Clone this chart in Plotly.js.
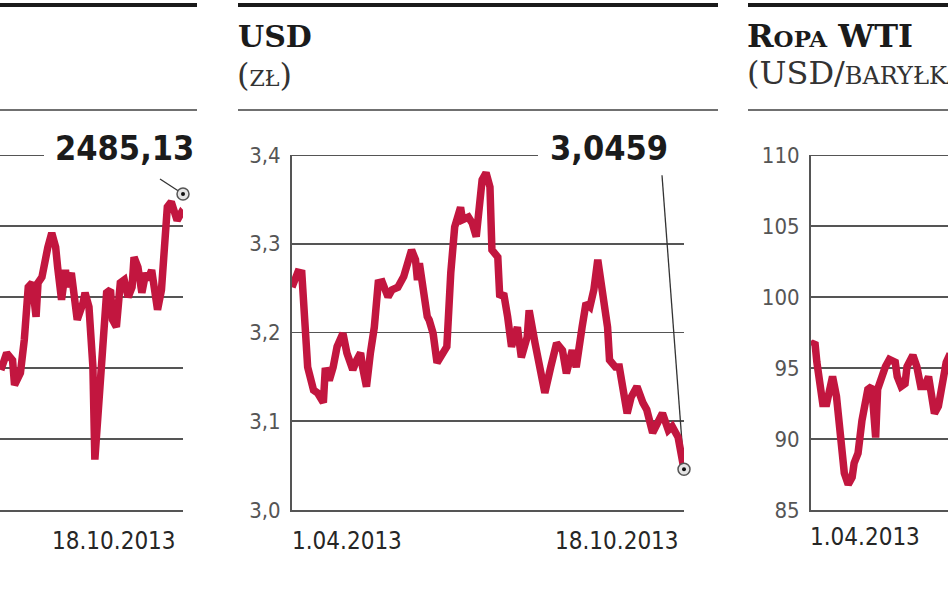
<!DOCTYPE html>
<html><head><meta charset="utf-8">
<script src="https://cdn.plot.ly/plotly-3.0.1.min.js"></script>
<style>html,body{margin:0;padding:0;background:#fff;}#chart{width:948px;height:593px;}</style>
</head><body><div id="chart"></div>
<script>
// ---- Data ----
// Left panel: index (only right part visible)
const wigDates = ['2013-07-17','2013-07-20','2013-07-23','2013-07-24','2013-07-27','2013-07-29','2013-07-31',
 '2013-08-02','2013-08-04','2013-08-05','2013-08-07','2013-08-09','2013-08-10','2013-08-12','2013-08-14','2013-08-15','2013-08-17','2013-08-19','2013-08-20','2013-08-22','2013-08-24','2013-08-25','2013-08-28','2013-08-29','2013-08-31',
 '2013-09-02','2013-09-03','2013-09-05','2013-09-07','2013-09-09','2013-09-11','2013-09-12','2013-09-14','2013-09-16','2013-09-18','2013-09-20','2013-09-22','2013-09-23','2013-09-25','2013-09-27','2013-09-29','2013-09-30',
 '2013-10-02','2013-10-04','2013-10-05','2013-10-07','2013-10-09','2013-10-10','2013-10-12','2013-10-14','2013-10-15','2013-10-17','2013-10-18'];
const wigValues = [2237,2261,2251,2216,2233,2280,2354,
 2360,2312,2360,2368,2402,2410,2430,2410,2382,2336,2378,2354,2374,2318,2308,2332,2346,2326,
 2242,2111,2195,2280,2346,2350,2308,2298,2360,2364,2340,2354,2396,2382,2346,2374,2364,
 2378,2326,2322,2350,2444,2467,2474,2458,2448,2458,2455];
const wigLastValue = 2485.13;
const wigTicks = [2040,2140,2240,2340,2440,2540];

// Middle panel: USD (zł)
const usdDates = ['2013-04-01','2013-04-04','2013-04-06','2013-04-08','2013-04-09','2013-04-12','2013-04-14','2013-04-17','2013-04-18','2013-04-20','2013-04-22','2013-04-24','2013-04-26','2013-04-27','2013-04-29',
 '2013-05-02','2013-05-04','2013-05-06','2013-05-07','2013-05-09','2013-05-11','2013-05-13','2013-05-15','2013-05-17','2013-05-20','2013-05-22','2013-05-25','2013-05-28','2013-05-30',
 '2013-06-01','2013-06-03','2013-06-04','2013-06-05','2013-06-07','2013-06-09','2013-06-10','2013-06-12','2013-06-14','2013-06-17','2013-06-19','2013-06-21','2013-06-22','2013-06-23','2013-06-26','2013-06-27','2013-06-30',
 '2013-07-02','2013-07-04','2013-07-06','2013-07-07','2013-07-09','2013-07-11','2013-07-12','2013-07-15','2013-07-16','2013-07-18','2013-07-20','2013-07-22','2013-07-25','2013-07-27','2013-07-30','2013-07-31',
 '2013-08-03','2013-08-05','2013-08-08','2013-08-11','2013-08-14','2013-08-17','2013-08-19','2013-08-22','2013-08-24','2013-08-27','2013-08-29','2013-08-31',
 '2013-09-02','2013-09-04','2013-09-06','2013-09-09','2013-09-10','2013-09-13','2013-09-15','2013-09-17','2013-09-19','2013-09-21','2013-09-24','2013-09-27','2013-09-29',
 '2013-10-02','2013-10-04','2013-10-07','2013-10-10','2013-10-12','2013-10-15','2013-10-18'];
const usdValues = [3.251,3.268,3.267,3.211,3.161,3.135,3.132,3.121,3.160,3.146,3.161,3.184,3.192,3.199,3.177,
 3.158,3.169,3.177,3.161,3.139,3.177,3.206,3.256,3.257,3.240,3.248,3.251,3.263,3.278,
 3.293,3.282,3.259,3.278,3.244,3.218,3.214,3.199,3.166,3.177,3.184,3.267,3.312,3.319,3.341,3.327,3.330,
 3.323,3.308,3.353,3.372,3.380,3.364,3.293,3.285,3.240,3.244,3.218,3.184,3.206,3.172,3.195,3.225,
 3.188,3.169,3.132,3.161,3.188,3.180,3.154,3.180,3.161,3.206,3.233,3.229,
 3.248,3.282,3.251,3.206,3.169,3.161,3.161,3.132,3.109,3.127,3.139,3.121,3.113,
 3.087,3.098,3.109,3.090,3.094,3.082,3.0459];
const usdTicks = [3.0,3.1,3.2,3.3,3.4];

// Right panel: Ropa WTI (USD/baryłka), only left part visible
const oilDates = ['2013-04-01','2013-04-03','2013-04-04','2013-04-06','2013-04-07','2013-04-09','2013-04-11','2013-04-12','2013-04-14','2013-04-16','2013-04-17','2013-04-18','2013-04-20','2013-04-22','2013-04-23','2013-04-25','2013-04-27','2013-04-29','2013-04-30',
 '2013-05-02','2013-05-04','2013-05-05','2013-05-07','2013-05-09','2013-05-11','2013-05-14','2013-05-15','2013-05-17','2013-05-19','2013-05-20','2013-05-23','2013-05-25','2013-05-27','2013-05-29','2013-05-31',
 '2013-06-02','2013-06-03','2013-06-05','2013-06-07','2013-06-09','2013-06-11'];
const oilValues = [96.6,96.8,95.4,93.5,92.5,92.5,94.2,94.4,93.0,90.6,89.0,87.6,86.8,87.3,88.3,89.0,91.3,93.0,93.5,
 93.7,90.1,93.5,94.4,95.1,95.6,95.4,94.4,93.7,93.9,95.1,95.9,95.1,93.7,93.7,94.4,
 93.0,91.8,92.3,93.7,95.4,96.0];
const oilTicks = [85,90,95,100,105,110];

const dateTickValues = ['2013-04-01','2013-10-18'];
const dateTickLabels = ['1.04.2013','18.10.2013'];

// ---- Styling ----
const W = 948, H = 593;
const px = v => v / W;
const py = v => 1 - v / H;
const RED = '#c2163f';
const GRID = '#555555';
const NUMFONT = '"DejaVu Sans Condensed", "DejaVu Sans", sans-serif';
const BIGFONT = '"DejaVu Sans Condensed", "DejaVu Sans", sans-serif';
const SERIF = '"DejaVu Serif", serif';
const fmt = (v, d) => v.toFixed(d).replace('.', ',');
const yDom = [py(510), py(155)];
const DOM_L = [0, px(183)], DOM_M = [px(292), px(684)], DOM_R = [px(811), 1];

function lineTrace(x, y, xa, ya) {
  return {type:'scatter', mode:'lines', x:x, y:y, xaxis:xa, yaxis:ya,
    line:{color:RED, width:7.5, shape:'linear'}, hoverinfo:'skip'};
}
function endMarkers(x, y, xa, ya) {
  return [
    {type:'scatter', mode:'markers', x:[x], y:[y], xaxis:xa, yaxis:ya, cliponaxis:false,
     marker:{size:12, color:'#e4e4e4', line:{color:'#555', width:1.5}}, hoverinfo:'skip'},
    {type:'scatter', mode:'markers', x:[x], y:[y], xaxis:xa, yaxis:ya, cliponaxis:false,
     marker:{size:4, color:'#111'}, hoverinfo:'skip'}
  ];
}

const wigEnd = wigDates[wigDates.length-1];
const usdEnd = usdDates[usdDates.length-1];
const usdLastValue = usdValues[usdValues.length-1];

const data = [
  lineTrace(wigDates, wigValues, 'x', 'y'),
  ...endMarkers(wigEnd, wigLastValue, 'x', 'y'),
  lineTrace(usdDates, usdValues, 'x2', 'y2'),
  ...endMarkers(usdEnd, usdLastValue, 'x2', 'y2'),
  lineTrace(oilDates, oilValues, 'x3', 'y3')
];

function xAxis(domain, range, anchor) {
  return {domain:domain, range:range, type:'date', anchor:anchor, showgrid:false, zeroline:false,
    showline:true, linecolor:GRID, linewidth:2, ticks:'', showticklabels:false, fixedrange:true};
}
function yAxis(range, ticks, anchor, showLabels, showLine, fmtStr) {
  return {domain:yDom, range:range, anchor:anchor, tickmode:'array', tickvals:ticks,
    tickformat:fmtStr, showgrid:true, gridcolor:GRID, gridwidth:1.8, zeroline:false,
    showline:showLine, linecolor:GRID, linewidth:2, ticks:'', showticklabels:showLabels,
    ticklabelstandoff:5, tickfont:{family:NUMFONT, size:22, color:'#555'}, fixedrange:true};
}

const lastIdxDate = dateTickValues.length - 1;
const dateFont = {family:NUMFONT, size:24, color:'#262626'};
const bigFont = {family:BIGFONT, size:34, color:'#1b1b1b', weight:700};

const annotations = [
  // date labels
  {xref:'x', yref:'paper', x:dateTickValues[lastIdxDate], y:py(541), xanchor:'right', yanchor:'middle',
   xshift:-5, text:dateTickLabels[lastIdxDate], showarrow:false, font:dateFont},
  {xref:'x2', yref:'paper', x:dateTickValues[0], y:py(541), xanchor:'left', yanchor:'middle',
   xshift:-2, text:dateTickLabels[0], showarrow:false, font:dateFont},
  {xref:'x2', yref:'paper', x:dateTickValues[lastIdxDate], y:py(541), xanchor:'right', yanchor:'middle',
   xshift:-3, text:dateTickLabels[lastIdxDate], showarrow:false, font:dateFont},
  {xref:'x3', yref:'paper', x:dateTickValues[0], y:py(537), xanchor:'left', yanchor:'middle',
   xshift:-3, text:dateTickLabels[0], showarrow:false, font:dateFont},
  // value callouts
  {xref:'paper', yref:'paper', x:px(196), y:py(148), xanchor:'right', yanchor:'middle',
   text:fmt(wigLastValue, 2), showarrow:false, font:bigFont},
  {xref:'paper', yref:'paper', x:px(670), y:py(148), xanchor:'right', yanchor:'middle',
   text:fmt(usdLastValue, 4), showarrow:false, font:bigFont},
  // titles
  {xref:'paper', yref:'paper', x:px(236), y:py(36), xanchor:'left', yanchor:'middle',
   text:'<b>USD</b>', showarrow:false, font:{family:SERIF, size:30, color:'#1b1b1b'}},
  {xref:'paper', yref:'paper', x:px(235), y:py(75), xanchor:'left', yanchor:'middle',
   text:'(<span style="font-size:22px">ZŁ</span>)', showarrow:false, font:{family:SERIF, size:32, color:'#333'}},
  {xref:'paper', yref:'paper', x:px(745), y:py(36), xanchor:'left', yanchor:'middle',
   text:'<b>R<span style="font-size:23px">OPA</span> WTI</b>', showarrow:false, font:{family:SERIF, size:32, color:'#1b1b1b'}},
  {xref:'paper', yref:'paper', x:px(745), y:py(73), xanchor:'left', yanchor:'middle',
   text:'(USD/<span style="font-size:24px">BARYŁKA</span>)', showarrow:false, font:{family:SERIF, size:32, color:'#333'}}
];

function topGrid(dom, yref, val) {
  return {type:'line', xref:'paper', yref:yref, x0:dom[0], x1:dom[1], y0:val, y1:val,
    line:{color:GRID, width:1.8}, layer:'below'};
}

const shapes = [
  // heavy top rules
  {type:'line', xref:'paper', yref:'paper', x0:0, x1:px(197), y0:py(5), y1:py(5), line:{color:'#1a1a1a', width:4}},
  {type:'line', xref:'paper', yref:'paper', x0:px(238), x1:px(718), y0:py(5), y1:py(5), line:{color:'#1a1a1a', width:4}},
  {type:'line', xref:'paper', yref:'paper', x0:px(748), x1:1, y0:py(5), y1:py(5), line:{color:'#1a1a1a', width:4}},
  // thin rules under titles
  {type:'line', xref:'paper', yref:'paper', x0:0, x1:px(197), y0:py(110), y1:py(110), line:{color:'#707070', width:2}},
  {type:'line', xref:'paper', yref:'paper', x0:px(238), x1:px(718), y0:py(110), y1:py(110), line:{color:'#707070', width:2}},
  {type:'line', xref:'paper', yref:'paper', x0:px(748), x1:1, y0:py(110), y1:py(110), line:{color:'#707070', width:2}},
  // top gridlines (Plotly drops gridlines at the range edge)
  topGrid(DOM_L, 'y', wigTicks[wigTicks.length-1]),
  topGrid(DOM_M, 'y2', usdTicks[usdTicks.length-1]),
  topGrid(DOM_R, 'y3', oilTicks[oilTicks.length-1]),
  // gaps in the top gridline behind callouts
  {type:'rect', xref:'paper', yref:'paper', x0:px(44), x1:px(200), y0:py(160), y1:py(150), fillcolor:'#fff', line:{width:0}, layer:'between'},
  {type:'rect', xref:'paper', yref:'paper', x0:px(538), x1:px(700), y0:py(160), y1:py(150), fillcolor:'#fff', line:{width:0}, layer:'between'},
  // leader lines
  {type:'line', xref:'x', yref:'y', xsizemode:'pixel', ysizemode:'pixel', xanchor:wigEnd, yanchor:wigLastValue,
   x0:-23, y0:15, x1:-3, y1:2, line:{color:'#333', width:1.3}, layer:'between'},
  {type:'line', xref:'x2', yref:'y2', xsizemode:'pixel', ysizemode:'pixel', xanchor:usdEnd, yanchor:usdLastValue,
   x0:-22, y0:294, x1:0, y1:0, line:{color:'#333', width:1.3}, layer:'between'}
];

const layout = {
  width:W, height:H, margin:{l:0, r:0, t:0, b:0}, paper_bgcolor:'#fff', plot_bgcolor:'rgba(0,0,0,0)',
  showlegend:false, hovermode:false, separators:', ',
  xaxis: xAxis(DOM_L, ['2013-07-16 14:00', '2013-10-18'], 'y'),
  yaxis: yAxis([wigTicks[0], wigTicks[wigTicks.length-1]], wigTicks, 'x', false, false, 'd'),
  xaxis2: xAxis(DOM_M, [dateTickValues[0], dateTickValues[1]], 'y2'),
  yaxis2: yAxis([usdTicks[0], usdTicks[usdTicks.length-1]], usdTicks, 'x2', true, true, '.1f'),
  xaxis3: xAxis(DOM_R, ['2013-04-01', '2013-06-09 22:00'], 'y3'),
  yaxis3: yAxis([oilTicks[0], oilTicks[oilTicks.length-1]], oilTicks, 'x3', true, true, 'd'),
  annotations: annotations,
  shapes: shapes
};

Plotly.newPlot('chart', data, layout, {staticPlot:true, displayModeBar:false});
</script>
</body></html>
